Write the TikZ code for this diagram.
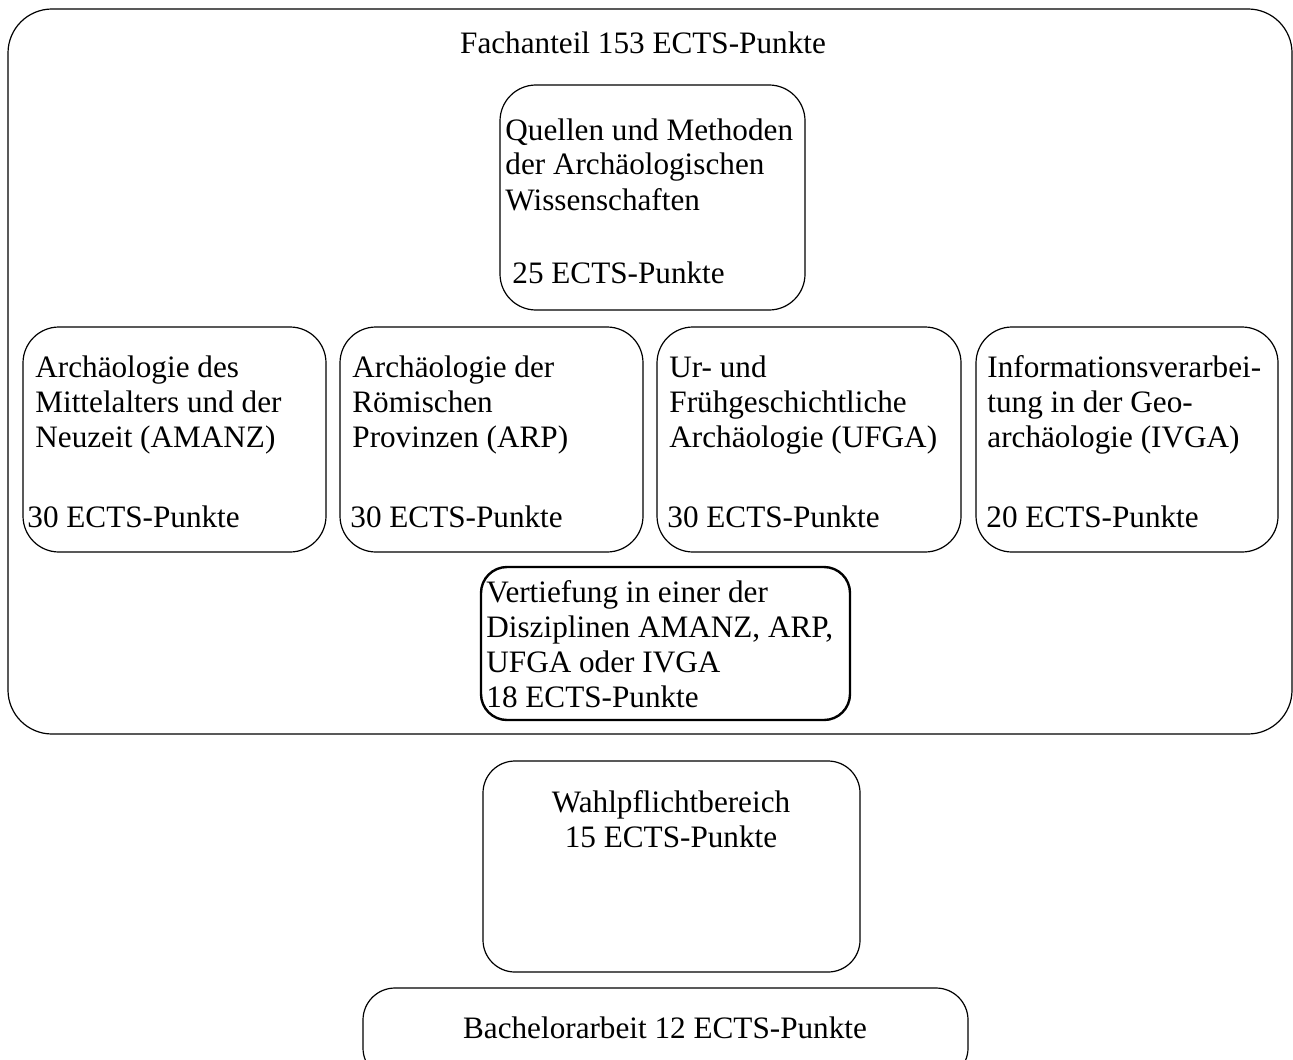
\documentclass[tikz,border=0pt]{standalone}
\usepackage{fontspec}
\setmainfont{Liberation Serif}
\usetikzlibrary{fit}

\tikzset{
  modul/.style={draw, line width=0.6pt, inner sep=0pt, rounded corners=18pt},
  vertiefung/.style={modul, line width=1.2pt, rounded corners=13pt},
  txt/.style={inner sep=0pt, align=left, anchor=base west},
  mitte/.style={inner sep=0pt, align=center, anchor=base},
}

\begin{document}
\begin{tikzpicture}[x=0.5pt, y=-0.5pt, font=\fontsize{15.6}{17.5}\selectfont]
  \useasboundingbox (0,0) rectangle (1293,1059);
  % Fachanteil
  \node[modul, rounded corners=22pt, fit={(8,9) (1292,734)}] (fach) {};
  \node[mitte] (fachtitel) at (643,54) {Fachanteil 153 ECTS-Punkte};

  % Quellen und Methoden (base = letzte Zeile)
  \node[modul, fit={(500,85) (805,310)}] (quellen) {};
  \node[txt] (quellentext) at (505,210) {Quellen und Methoden\\der Archäologischen\\Wissenschaften};
  \node[txt] (quellenects) at (512,283) {25 ECTS-Punkte};

  % die vier Disziplinen
  \node[modul, fit={(23,327) (326,552)}] (amanz) {};
  \node[txt] (amanztext) at (35,447) {Archäologie des\\Mittelalters und der\\Neuzeit (AMANZ)};
  \node[txt] (amanzects) at (27,527) {30 ECTS-Punkte};

  \node[modul, fit={(340,327) (643,552)}] (arp) {};
  \node[txt] (arptext) at (352,447) {Archäologie der\\Römischen\\Provinzen (ARP)};
  \node[txt] (arpects) at (350,527) {30 ECTS-Punkte};

  \node[modul, fit={(657,327) (961,552)}] (ufga) {};
  \node[txt] (ufgatext) at (669,447) {Ur- und\\Frühgeschichtliche\\Archäologie (UFGA)};
  \node[txt] (ufgaects) at (667,527) {30 ECTS-Punkte};

  \node[modul, fit={(976,327) (1278,552)}] (ivga) {};
  \node[txt] (ivgatext) at (987,447) {Informationsverarbei-\\tung in der Geo-\\archäologie (IVGA)};
  \node[txt] (ivgaects) at (986,527) {20 ECTS-Punkte};

  % Vertiefung
  \node[vertiefung, fit={(481,567) (850,720)}] (vertiefung) {};
  \node[txt] (vertiefungtext) at (486,707) {Vertiefung in einer der\\Disziplinen AMANZ, ARP,\\UFGA oder IVGA\\18 ECTS-Punkte};

  % Wahlpflichtbereich
  \node[modul, rounded corners=16pt, fit={(483,761) (860,972)}] (wahl) {};
  \node[mitte] (wahltext) at (671,847) {Wahlpflichtbereich\\15 ECTS-Punkte};

  % Bachelorarbeit
  \node[modul, rounded corners=16pt, fit={(363,988) (968,1080)}] (bachelor) {};
  \node[mitte] (bachelortext) at (665,1038) {Bachelorarbeit 12 ECTS-Punkte};
\end{tikzpicture}
\end{document}
